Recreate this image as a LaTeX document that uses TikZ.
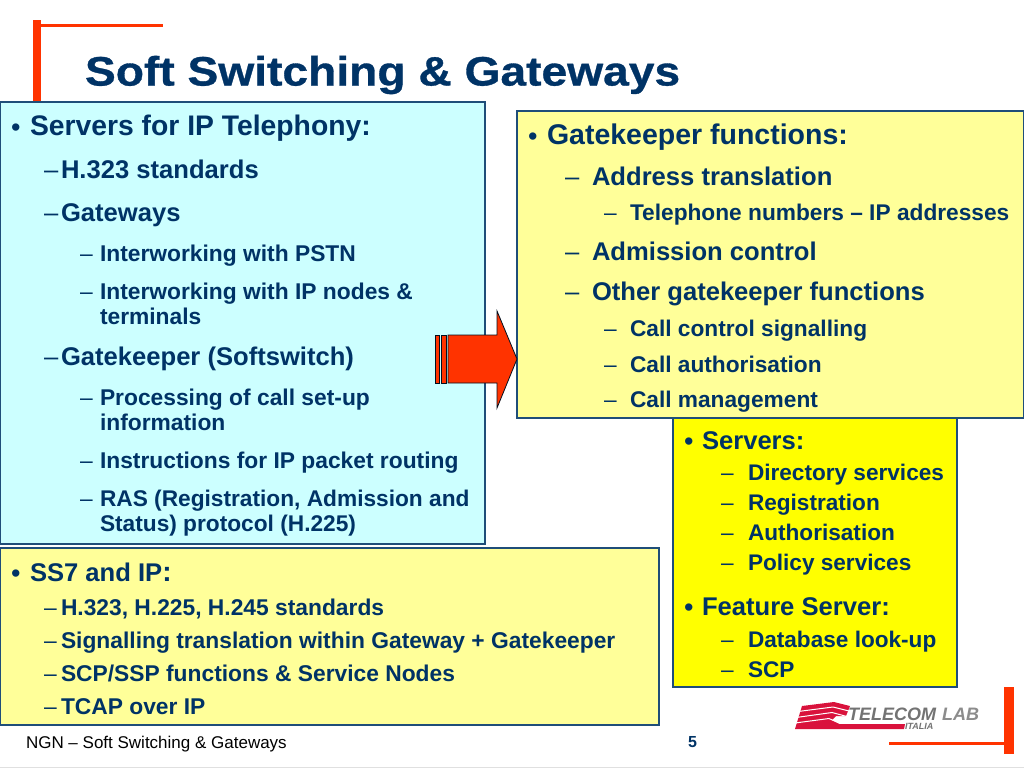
\documentclass[tikz,border=0pt]{standalone}
\usepackage{fontspec}
\setmainfont{Liberation Sans}
\definecolor{navy}{HTML}{003366}
\definecolor{edge}{HTML}{1F4E79}
\definecolor{redor}{HTML}{FF3300}
\definecolor{cyanbox}{HTML}{CCFFFF}
\definecolor{paleyel}{HTML}{FFFF99}
\definecolor{fullyel}{HTML}{FFFF00}
\definecolor{logored}{HTML}{D9123C}
\newcommand{\bl}[5]{\node[lbl,font=\fontsize{#4}{#4}\selectfont\bfseries] (#1) at (#2,#3) {#5};}
\newcommand{\ds}[4]{\node[lbl,font=\fontsize{#4}{#4}\selectfont] (#1) at (#2,#3) {–};}
\newcommand{\bu}[3]{\node[lbl,font=\fontsize{27}{27}\selectfont] (#1) at (#2,#3) {•};}
\tikzset{x=1pt,y=-1pt,
 lbl/.style={anchor=base west,inner sep=0pt,outer sep=0pt,text=navy},
 panel/.style={draw=edge,line width=1.1pt},
 redbar/.style={fill=redor,draw=none},
 logostripe/.style={fill=logored,draw=none},
 logogap/.style={draw=white,line width=1pt}}
\begin{document}
\begin{tikzpicture}
\useasboundingbox (0,0) rectangle (1024,768);
\fill[white] (0,0) rectangle (1024,768);
% decorative bars
\fill[redbar] (33,20) rectangle (41,102);
\fill[redbar] (41,24) rectangle (163,27);
\fill[redbar] (1004,687) rectangle (1014,754);
\fill[redbar] (889,742) rectangle (1014,745);
% title
\node[lbl,font=\fontsize{41}{41}\selectfont\bfseries] (title) at (85,85.5) {\addfontfeature{FakeStretch=1.126,FakeBold=0.8}Soft Switching \& Gateways};
% panels
\fill[cyanbox,panel] (0,102) rectangle (485,544);
\fill[paleyel,panel] (517,111) rectangle (1024,418);
\fill[fullyel,panel] (673,418) rectangle (957,687);
\fill[paleyel,panel] (0,548) rectangle (659,725);
% arrow
\begin{scope}[fill=redor,draw=black!70!navy,line width=0.8pt]
\filldraw (435,335) rectangle (439,383);
\filldraw (441,335) rectangle (446,383);
\filldraw (448,335) -- (497,335) -- (497,311) -- (517,359) -- (497,408) -- (497,383) -- (448,383) -- cycle;
\end{scope}
% left panel
\bu{a0}{11}{136}
\bl{a1}{30}{135}{28.3}{Servers for IP Telephony:}
\ds{a2}{44}{178.5}{25.6}
\bl{a3}{61}{178.5}{25.6}{H.323 standards}
\ds{a4}{44}{221.5}{25.6}
\bl{a5}{61}{221.5}{25.6}{Gateways}
\ds{a6}{80}{261}{22.8}
\bl{a7}{100}{261}{22.8}{Interworking with PSTN}
\ds{a8}{80}{299}{22.8}
\bl{a9}{100}{299}{22.8}{Interworking with IP nodes \&}
\bl{a10}{100}{324}{22.8}{terminals}
\ds{a11}{44}{365.5}{25.6}
\bl{a12}{61}{365.5}{25.6}{Gatekeeper (Softswitch)}
\ds{a13}{80}{405}{22.8}
\bl{a14}{100}{405}{22.8}{Processing of call set-up}
\bl{a15}{100}{430}{22.8}{information}
\ds{a16}{80}{468}{22.8}
\bl{a17}{100}{468}{22.8}{Instructions for IP packet routing}
\ds{a18}{80}{506}{22.7}
\bl{a19}{100}{506}{22.7}{RAS (Registration, Admission and}
\bl{a20}{100}{531}{22.7}{Status) protocol (H.225)}
% right panel
\bu{b0}{528}{145}
\bl{b1}{547}{144}{28.5}{Gatekeeper functions:}
\ds{b2}{565}{185}{25.6}
\bl{b3}{592}{185}{25.6}{Address translation}
\ds{b4}{604}{220}{22.7}
\bl{b5}{630}{220}{22.7}{Telephone numbers – IP addresses}
\ds{b6}{565}{260}{25.6}
\bl{b7}{592}{260}{25.6}{Admission control}
\ds{b8}{565}{300}{25.6}
\bl{b9}{592}{300}{25.6}{Other gatekeeper functions}
\ds{b10}{604}{336}{22.7}
\bl{b11}{630}{336}{22.7}{Call control signalling}
\ds{b12}{604}{372}{22.7}
\bl{b13}{630}{372}{22.7}{Call authorisation}
\ds{b14}{604}{407}{22.7}
\bl{b15}{630}{407}{22.7}{Call management}
% servers panel
\bu{c0}{684}{450}
\bl{c1}{702}{449}{25.6}{Servers:}
\ds{c2}{721}{480.5}{22.6}
\bl{c3}{748}{480.5}{22.6}{Directory services}
\ds{c4}{721}{510.5}{22.6}
\bl{c5}{748}{510.5}{22.6}{Registration}
\ds{c6}{721}{540.5}{22.6}
\bl{c7}{748}{540.5}{22.6}{Authorisation}
\ds{c8}{721}{570.5}{22.6}
\bl{c9}{748}{570.5}{22.6}{Policy services}
\bu{c10}{684}{616}
\bl{c11}{702}{615}{25.6}{Feature Server:}
\ds{c12}{721}{647.5}{22.6}
\bl{c13}{748}{647.5}{22.6}{Database look-up}
\ds{c14}{721}{677.5}{22.6}
\bl{c15}{748}{677.5}{22.6}{SCP}
% SS7 panel
\bu{d0}{11}{582}
\bl{d1}{30}{581}{25.6}{SS7 and IP\fontsize{28}{28}\selectfont:}
\ds{d2}{44}{615.5}{22.8}
\bl{d3}{61}{615.5}{22.8}{H.323, H.225, H.245 standards}
\ds{d4}{44}{648.5}{22.8}
\bl{d5}{61}{648.5}{22.8}{Signalling translation within Gateway + Gatekeeper}
\ds{d6}{44}{681.5}{22.8}
\bl{d7}{61}{681.5}{22.8}{SCP/SSP functions \& Service Nodes}
\ds{d8}{44}{714.5}{22.8}
\bl{d9}{61}{714.5}{22.8}{TCAP over IP}
% footer
\node[lbl,text=black,font=\fontsize{17}{17}\selectfont] (foot) at (26,748) {NGN – Soft Switching \& Gateways};
\node[lbl,text=navy,font=\fontsize{16}{16}\selectfont\bfseries] (page) at (688,747) {5};
% logo
\fill[logostripe] (802,706) -- (834,702) -- (850,706) -- (846,716) -- (836,716) -- (832,720) -- (840,724) -- (905,724) -- (904,729) -- (795,729) -- cycle;
\draw[logogap] (798,711.5) -- (833,707) -- (849,711);
\draw[logogap] (796,717.5) -- (832,712.5) -- (847,716.5);
\draw[logogap] (795,723) -- (829,718.5) -- (840,723.5);
\node[lbl,text=black!55,font=\fontsize{18}{18}\selectfont\bfseries\itshape] (tel) at (848,720) {TELECOM};
\node[lbl,text=black!45,font=\fontsize{18}{18}\selectfont\bfseries\itshape] (lab) at (942,720) {LAB};
\node[lbl,text=black!55,font=\fontsize{9}{9}\selectfont\bfseries\itshape] (ital) at (905,729) {ITALIA};
\draw[black!12,line width=0.8pt] (0,767.5) -- (1024,767.5);
\end{tikzpicture}
\end{document}
